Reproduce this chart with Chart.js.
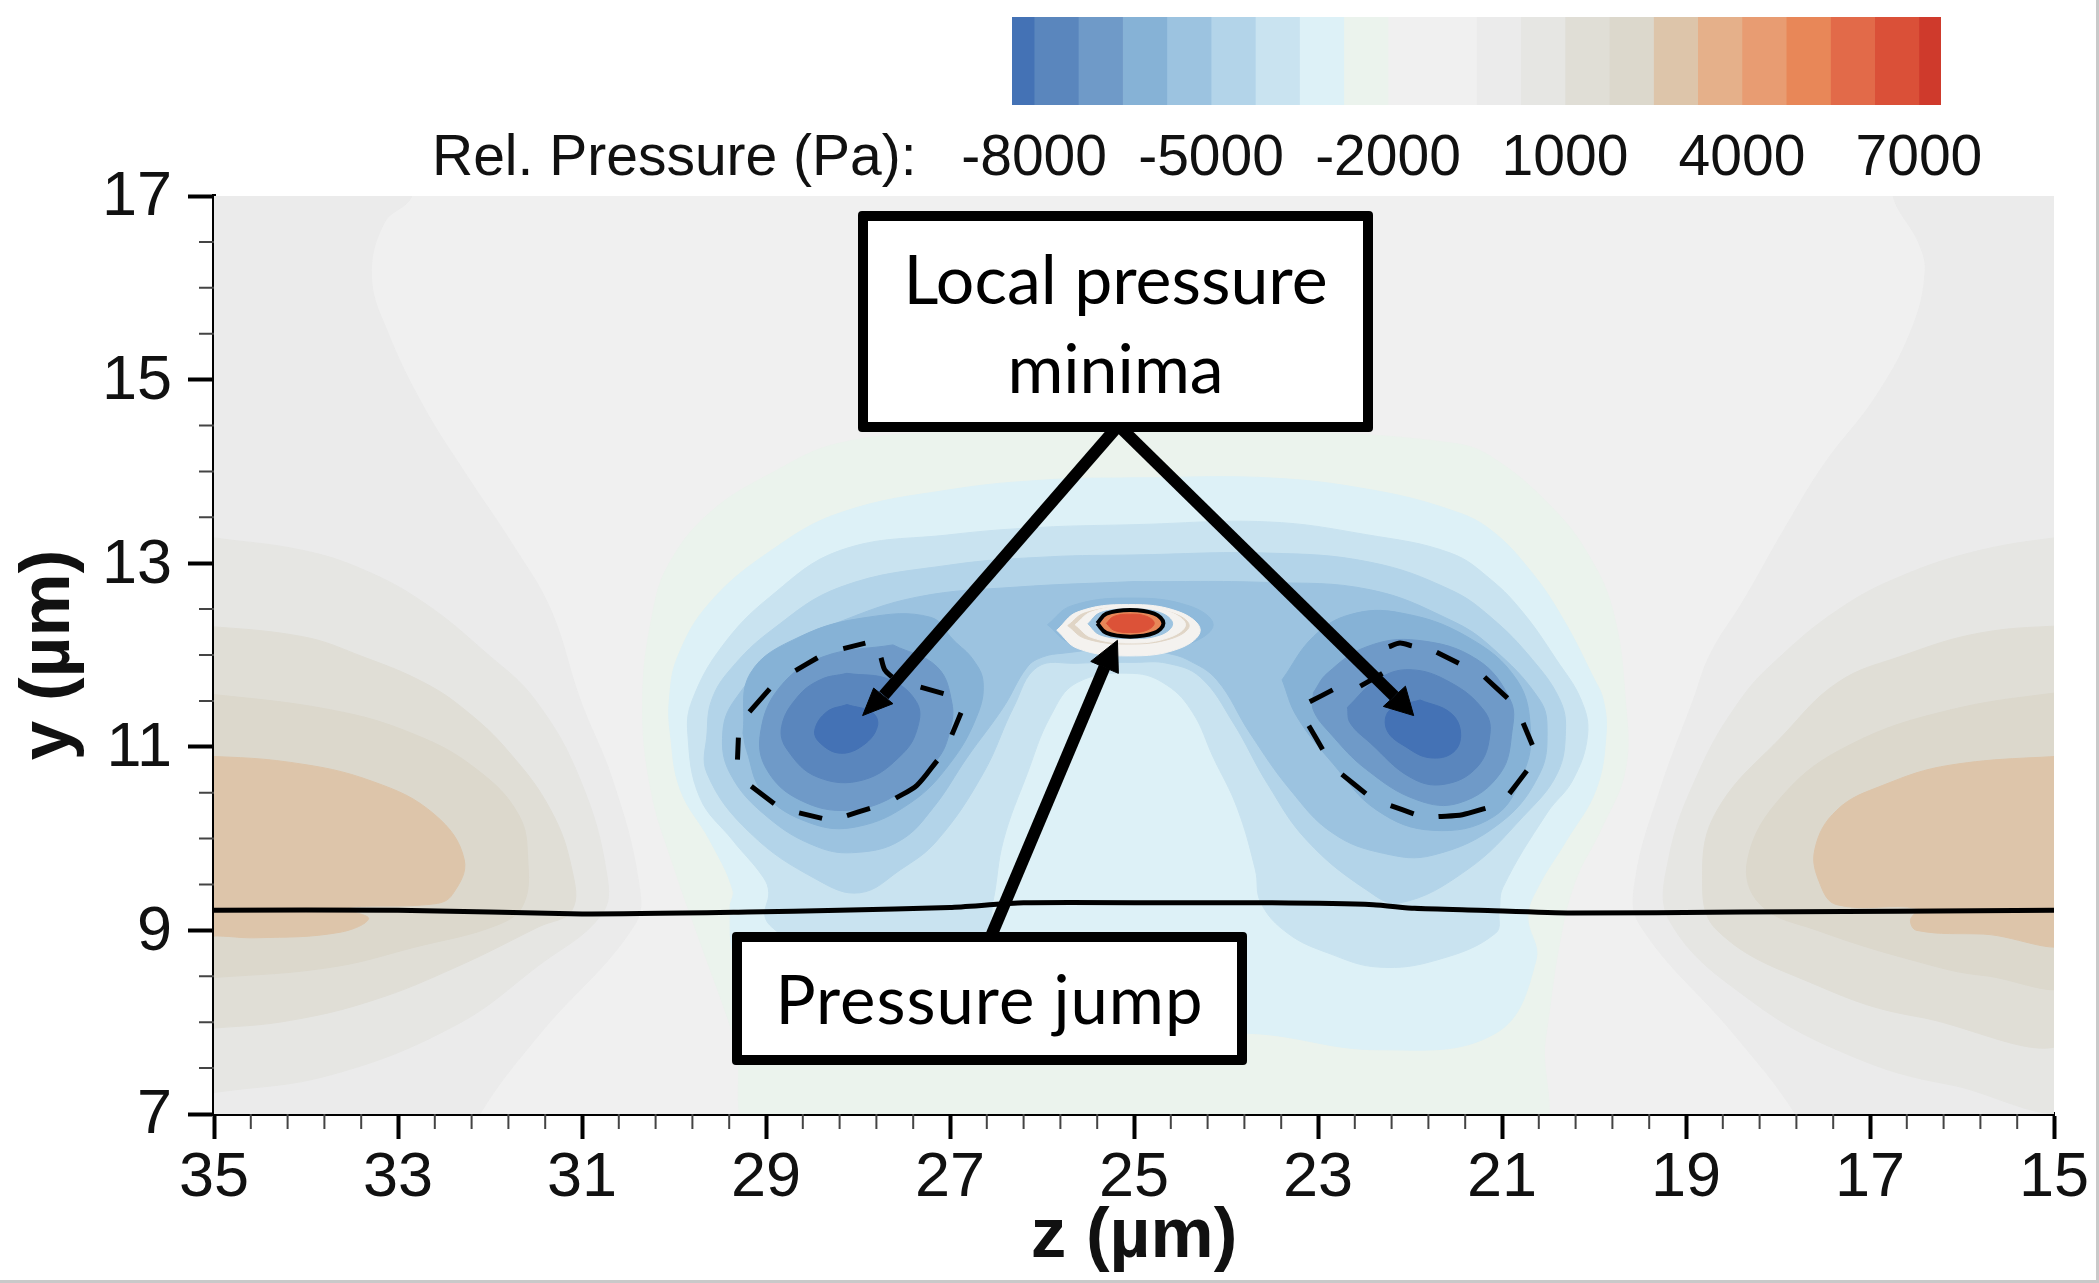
<!DOCTYPE html>
<html lang="en">
<head>
<meta charset="UTF-8">
<title>Relative pressure contour</title>
<script src="https://cdn.jsdelivr.net/npm/chart.js"></script>
<style>
    body { margin: 0; background: #fff; font-family: "Liberation Sans", Arial, sans-serif; }
    #page { position: relative; width: 2099px; height: 1283px; overflow: hidden; }
    canvas { position: absolute; }
    #frame { position: absolute; left: 0; top: 0; width: 2096px; height: 1280px; border-right: 3px solid #c9c9c9; border-bottom: 3px solid #c9c9c9; }
    #barTitle { position: absolute; left: 432px; top: 120px; font-size: 57px; line-height: 70px; color: #111; white-space: nowrap; }
    .note { position: absolute; box-sizing: border-box; background: #fff; border: 10px solid #000; border-radius: 4px;
            font-family: Lato, sans-serif; color: #000; text-align: center;
            display: flex; flex-direction: column; justify-content: center; }
</style>
</head>
<body>
<div id="page">
    <canvas id="plot" width="2099" height="1283" style="left:0;top:0"></canvas>
    <canvas id="colorbar" width="1160" height="195" style="left:880px;top:0"></canvas>
    <div id="barTitle">Rel. Pressure (Pa):</div>
    <div class="note" style="left:858px;top:211px;width:515px;height:221px;line-height:89px;font-size:68px">
        <div>Local pressure</div><div>minima</div>
    </div>
    <div class="note" style="left:732px;top:932px;width:515px;height:133px;line-height:89px;font-size:67px;letter-spacing:1px">
        <div>Pressure jump</div>
    </div>
    <div id="frame"></div>
</div>

<script>
const zTicks = [35, 33, 31, 29, 27, 25, 23, 21, 19, 17, 15];
const yTicks = [17, 15, 13, 11, 9, 7];
const barTicks = [-8000, -5000, -2000, 1000, 4000, 7000];

// colour bar bands, Pa
const barEdges = [-8375, -8000, -7250, -6500, -5750, -5000, -4250, -3500, -2750, -2000, -1250, -500,
                  250, 1000, 1750, 2500, 3250, 4000, 4750, 5500, 6250, 7000, 7375];
const barColors = ['#4472b5', '#5a86bd', '#6f9ac8', '#86b2d6', '#9cc3e0', '#b3d4e9', '#c9e3f0', '#ddf1f7',
                   '#ebf3ed', '#f0f0f0', '#f0f0f0', '#ebebeb', '#e6e6e3', '#e0ded6', '#dcd8cc', '#ddc5aa',
                   '#e5b08a', '#e89c72', '#e88758', '#e26a49', '#da5038', '#cf3a2c'];

// contour outlines as [z, y] in um
const sideLeft1 = [[36.5,18.5],[32.6,18],[32.85,17],[33.15,16.71],[33.29,16.12],[33.11,15.51],[32.72,14.7],[32.27,13.98],[31.74,13.18],[31.34,12.49],[31.02,11.51],[30.67,10.64],[30.39,9.55],[30.43,9.06],[31.47,7.86],[32.11,7],[32.3,6.5],[36.5,5.5]];
const sideRight1 = [[13.5,18.5],[16.9,18],[16.75,17],[16.47,16.49],[16.4,16.16],[16.55,15.54],[16.94,14.81],[17.49,14.09],[17.92,13.39],[18.37,12.6],[18.73,12.02],[18.92,11.51],[19.28,10.53],[19.55,9.55],[19.5,9.06],[18.47,7.86],[17.81,7],[17.6,6.5],[13.5,5.5]];
const sideLeft2 = [[35.26,13.31],[34.96,13.27],[34.04,13.14],[33.38,12.93],[32.72,12.57],[32.04,12.02],[31.51,11.51],[31.02,10.64],[30.73,9.6],[30.79,9.17],[31.47,8.62],[32.37,7.97],[33.72,7.43],[34.96,7.24],[35.26,7.21]];
const sideRight2 = [[14.77,13.31],[15.8,13.14],[16.68,12.85],[17.35,12.49],[18.01,11.95],[18.41,11.51],[18.85,10.75],[19.19,9.77],[19.17,9.09],[18.3,8.24],[17.22,7.64],[16.13,7.32],[14.77,7.19]];
const sideLeft3 = [[35.26,12.33],[34.04,12.2],[33.38,11.98],[32.72,11.7],[32.27,11.4],[31.8,10.95],[31.34,10.31],[31.11,9.66],[31.11,9.22],[31.47,9.04],[32.37,8.6],[33.27,8.24],[34.17,8.02],[34.96,7.94],[35.26,7.94]];
const sideRight3 = [[14.77,12.33],[15.8,12.24],[16.68,11.98],[17.35,11.7],[17.94,11.13],[18.66,10.31],[18.82,9.6],[18.66,9],[17.57,8.4],[16.48,8.06],[14.77,7.92]];
const sideLeft4 = [[35.26,11.6],[33.72,11.4],[32.81,11.13],[32.14,10.75],[31.69,10.26],[31.59,9.77],[31.64,9.28],[31.92,9.06],[32.81,8.82],[33.72,8.6],[34.96,8.49],[35.26,8.49]];
const sideRight4 = [[14.77,11.62],[16.13,11.4],[17.22,11.02],[17.94,10.48],[18.33,9.77],[18.19,9.28],[17.57,9],[16.48,8.66],[15.77,8.51],[14.77,8.49]];
const sideLeft5 = [[35.26,10.91],[34.17,10.83],[33.27,10.62],[32.6,10.26],[32.28,9.77],[32.41,9.39],[32.6,9.29],[33.59,9.24],[33.32,9.13],[33.63,8.98],[34.53,8.92],[34.96,8.94],[35.26,8.94]];
const sideRight5 = [[14.77,10.91],[16.13,10.8],[16.86,10.58],[17.36,10.31],[17.6,9.88],[17.54,9.5],[17.36,9.28],[16.49,9.24],[16.56,9.11],[16.49,9],[15.77,8.96],[14.77,8.93]];

const archGreen = [[25,14.45],[23.19,14.43],[21.56,14.31],[21.12,14.16],[20.46,13.61],[20.05,13.07],[19.79,12.46],[19.66,11.51],[19.66,10.75],[19.93,10.09],[20.2,9.55],[20.37,8.89],[20.53,7.81],[20.69,6.77],[29.06,6.77],[29.34,7.81],[29.72,8.89],[29.99,9.66],[30.25,10.53],[30.34,11.51],[30.23,12.46],[30.05,13],[29.61,13.55],[28.94,13.98],[28.19,14.31],[26.89,14.43]];
const archCyan = [[25,13.93],[23.55,13.93],[22.43,13.8],[21.56,13.58],[21.12,13.36],[20.67,12.89],[20.33,12.38],[20.01,11.76],[19.9,11.51],[19.87,11.13],[19.98,10.53],[20.3,9.98],[20.61,9.47],[20.72,9.15],[20.63,8.68],[21.07,7.88],[22.34,7.7],[23.78,7.88],[26.45,7.81],[27.76,7.7],[28.96,7.88],[29.34,8.68],[29.39,9.25],[29.36,9.44],[29.61,9.98],[29.93,10.53],[30.04,11.15],[30.05,11.51],[29.96,11.98],[29.61,12.57],[28.94,13.14],[28.19,13.55],[27,13.8],[25.91,13.91]];
const archPale = [[25,13.42],[23.55,13.45],[22.47,13.31],[21.56,13.11],[21.12,12.82],[20.77,12.46],[20.41,11.95],[20.14,11.51],[20.07,11.13],[20.23,10.64],[20.51,10.28],[20.99,9.47],[21.03,9.22],[21.07,8.97],[21.7,8.68],[22.34,8.6],[22.88,8.75],[23.33,8.97],[23.62,9.3],[23.68,9.66],[23.88,10.34],[24.14,10.89],[24.36,11.37],[24.64,11.67],[25.01,11.8],[25.62,11.7],[25.91,11.33],[26.16,10.71],[26.42,9.98],[26.53,9.33],[26.62,8.98],[27.11,8.68],[27.76,8.6],[28.47,8.68],[28.87,8.98],[29.01,9.15],[28.97,9.41],[29.03,9.58],[29.36,9.98],[29.72,10.45],[29.85,11.15],[29.8,11.51],[29.48,12.09],[28.96,12.63],[28.19,13.14],[27,13.31],[26.02,13.39]];
const archLight = [[25,13.09],[23.55,13.11],[22.43,13.01],[21.56,12.71],[21.12,12.41],[20.67,11.95],[20.37,11.51],[20.31,11.18],[20.4,10.71],[20.77,10.24],[21.38,9.66],[22.11,9.3],[22.47,9.44],[23.12,9.98],[23.55,10.6],[23.92,11.26],[24.28,11.76],[24.64,11.91],[25,11.92],[25.62,11.91],[26.05,11.87],[26.31,11.43],[26.64,10.71],[27.14,9.98],[27.54,9.66],[27.98,9.41],[28.44,9.55],[29.17,10.06],[29.64,10.71],[29.64,11.15],[29.59,11.51],[29.39,11.84],[28.94,12.27],[28.19,12.74],[27,12.98],[25.91,13.07]];
const archMid = [[25,12.8],[23.55,12.79],[22.43,12.71],[21.56,12.38],[21.12,12.09],[20.59,11.51],[20.51,11.18],[20.59,10.71],[21.02,10.17],[21.75,9.82],[22.29,9.84],[22.84,10.06],[23.3,10.53],[23.74,11.15],[24.1,11.73],[24.42,11.95],[24.64,12.02],[25,12.09],[25.77,12.02],[25.99,11.98],[26.16,11.87],[26.42,11.43],[26.81,10.89],[27.18,10.34],[27.54,9.98],[28.01,9.85],[28.44,9.91],[28.99,10.24],[29.39,10.71],[29.47,11.15],[29.34,11.51],[28.81,12.08],[28.23,12.35],[27.36,12.63],[26.27,12.74]];

const lobeLeft1 = [[29.25,11.15],[29.17,11.8],[28.63,12.2],[27.9,12.41],[27.21,12.41],[26.96,12.16],[26.75,11.95],[26.64,11.7],[26.71,11.33],[27,10.82],[27.43,10.39],[28.01,10.13],[28.52,10.17],[29.03,10.5],[29.21,10.96]];
const lobeRight1 = [[23.39,11.73],[23.05,12.2],[22.65,12.44],[22.11,12.46],[21.38,12.2],[20.84,11.73],[20.69,11.18],[20.77,10.71],[21.09,10.24],[21.75,10.09],[22.36,10.31],[22.84,10.82],[23.23,11.33]];
const lobeLeft2 = [[27.62,12.11],[27.14,11.87],[26.98,11.48],[27,11.18],[27.14,10.86],[27.54,10.5],[28.09,10.31],[28.63,10.42],[28.99,10.75],[29.06,11.15],[28.85,11.65],[28.38,11.98]];
const lobeRight2 = [[23.05,11.59],[22.9,11.8],[22.47,12.09],[21.92,12.16],[21.27,11.95],[20.91,11.51],[20.89,11.18],[21.02,10.71],[21.46,10.39],[21.92,10.42],[22.47,10.75],[22.87,11.15],[23.05,11.4]];
const lobeLeft3 = [[28.12,11.8],[27.65,11.73],[27.36,11.48],[27.35,11.22],[27.51,10.93],[27.94,10.64],[28.44,10.67],[28.77,10.97],[28.83,11.22],[28.66,11.54],[28.41,11.73]];
const lobeRight3 = [[22.68,11.43],[22.36,11.73],[22,11.84],[21.56,11.7],[21.2,11.4],[21.13,11.15],[21.27,10.78],[21.64,10.59],[22,10.67],[22.43,11.04],[22.65,11.26]];
const lobeLeft4 = [[28.12,11.46],[27.84,11.37],[27.79,11.22],[27.94,11.02],[28.19,10.93],[28.41,11.04],[28.47,11.18],[28.34,11.38]];
const lobeRight4 = [[21.89,11.51],[21.56,11.37],[21.45,11.15],[21.53,10.94],[21.78,10.88],[22.03,10.99],[22.25,11.18],[22.22,11.4]];

const jumpHalo = [[25.94,12.33],[25.68,12.535],[25.04,12.62],[24.4,12.535],[24.14,12.33],[24.4,12.125],[25.04,12.04],[25.68,12.125]];
const jumpWhite = [[25.84,12.27],[25.61,12.47],[25.06,12.55],[24.51,12.47],[24.28,12.27],[24.51,12.07],[25.06,11.99],[25.61,12.07]];
const jumpTan = [[25.72,12.32],[25.53,12.46],[25.06,12.52],[24.59,12.46],[24.4,12.32],[24.59,12.18],[25.06,12.12],[25.53,12.18]];
const jumpInner = [[25.64,12.33],[25.46,12.47],[25.04,12.53],[24.62,12.47],[24.44,12.33],[24.62,12.19],[25.04,12.13],[25.46,12.19]];
const jumpBlue = [[25.5,12.34],[25.37,12.46],[25.04,12.5],[24.71,12.46],[24.58,12.34],[24.71,12.22],[25.04,12.18],[25.37,12.22]];
const jumpOrange = [[25.4,12.345],[25.3,12.45],[25.04,12.49],[24.78,12.45],[24.68,12.345],[24.78,12.24],[25.04,12.2],[25.3,12.24]];
const jumpRed = [[25.3,12.345],[25.22,12.42],[25.04,12.445],[24.86,12.42],[24.78,12.345],[24.86,12.27],[25.04,12.245],[25.22,12.27]];

// interface line
const interfaceLine = [[35,9.22],[33,9.22],[31,9.18],[29.2,9.2],[28.2,9.22],[27,9.25],[26.2,9.3],[24.6,9.3],[23.5,9.3],[22.4,9.28],[21.95,9.24],[21.25,9.22],[20.25,9.19],[18.4,9.2],[15,9.22]];

// dashed outlines around the minima, one stroke each
const dashesLeft = [
    [[28.16,12.07],[27.92,12.13]],
    [[28.68,11.83],[28.44,11.97]],
    [[29.18,11.38],[28.96,11.63]],
    [[29.3,11.1],[29.31,10.86]],
    [[29.16,10.57],[28.91,10.38]],
    [[28.64,10.28],[28.39,10.22]],
    [[28.12,10.25],[27.87,10.33]],
    [[27.59,10.44],[27.36,10.58],[27.14,10.85]],
    [[26.98,11.13],[26.88,11.37]],
    [[27.32,11.65],[27.07,11.58]],
    [[27.75,11.97],[27.71,11.84],[27.63,11.76]]
];
const dashesRight = [
    [[22.23,12.09],[22.11,12.13],[21.98,12.1]],
    [[21.71,12.03],[21.47,11.91]],
    [[21.19,11.76],[20.94,11.53]],
    [[20.77,11.26],[20.67,11.02]],
    [[20.73,10.74],[20.92,10.49]],
    [[21.18,10.33],[21.43,10.26],[21.69,10.24]],
    [[21.96,10.27],[22.21,10.36]],
    [[22.48,10.49],[22.74,10.7]],
    [[22.95,10.97],[23.1,11.23]],
    [[23.09,11.49],[22.84,11.62]],
    [[22.54,11.66],[22.3,11.8]]
];

// annotation arrows
const arrowLeftShaft = [[25.17,14.5],[27.72,11.56]];
const arrowRightShaft = [[25.17,14.5],[22.17,11.55]];
const arrowJumpShaft = [[26.57,8.9],[25.32,11.87]];
const arrowLeftHead = [[27.95,11.34],[27.62,11.47],[27.83,11.64]];
const arrowRightHead = [[21.96,11.34],[22.29,11.44],[22.05,11.66]];
const arrowJumpHead = [[25.18,12.16],[25.47,11.93],[25.17,11.8]];

const toXY = pts => pts.map(p => ({x: p[0], y: p[1]}));

// painter's order, outermost first
const layers = [
    [sideLeft1, '#ebebeb'], [sideRight1, '#ebebeb'],
    [sideLeft2, '#e6e6e3'], [sideRight2, '#e6e6e3'],
    [sideLeft3, '#e0ded6'], [sideRight3, '#e0ded6'],
    [sideLeft4, '#dcd8cc'], [sideRight4, '#dcd8cc'],
    [sideLeft5, '#ddc5aa'], [sideRight5, '#ddc5aa'],
    [archGreen, '#ebf3ed'], [archCyan, '#ddf1f7'], [archPale, '#c9e3f0'],
    [archLight, '#b3d4e9'], [archMid, '#9cc3e0'],
    [lobeLeft1, '#86b2d6'], [lobeRight1, '#86b2d6'],
    [lobeLeft2, '#6f9ac8'], [lobeRight2, '#6f9ac8'],
    [lobeLeft3, '#5a86bd'], [lobeRight3, '#5a86bd'],
    [lobeLeft4, '#4472b5'], [lobeRight4, '#4472b5'],
    [jumpHalo, '#8fbadb'], [jumpWhite, '#f4f2ef'], [jumpTan, '#e0d5c6'], [jumpInner, '#f4f2ef'],
    [jumpBlue, '#9cc3e0'], [jumpOrange, '#e88758'], [jumpRed, '#dc5238']
];

const datasets = [];
function addFilled(pts, color, tension) {
    datasets.push({
        data: toXY(pts.concat([pts[0]])), showLine: true, filled: true, tension: tension,
        borderColor: color, backgroundColor: color, borderWidth: 1, pointRadius: 0, capBezierPoints: false
    });
}
function addLine(pts, width, tension) {
    datasets.push({
        data: toXY(pts), showLine: true, tension: tension, borderColor: '#000', borderWidth: width,
        pointRadius: 0, borderCapStyle: 'butt', capBezierPoints: false
    });
}

layers.forEach(l => addFilled(l[0], l[1], 0.4));
addLine(jumpOrange.concat([jumpOrange[0]]), 4, 0.4);
addLine(interfaceLine, 5, 0.2);
dashesLeft.concat(dashesRight).forEach(d => addLine(d, 5, 0.3));
addLine(arrowLeftShaft, 12, 0);
addLine(arrowRightShaft, 12, 0);
addLine(arrowJumpShaft, 12, 0);
addFilled(arrowLeftHead, '#000', 0);
addFilled(arrowRightHead, '#000', 0);
addFilled(arrowJumpHead, '#000', 0);
// first one gets painted first
datasets.forEach((d, i) => { d.order = datasets.length - i; });

const contourFill = {
    id: 'contourFill',
    beforeDatasetsDraw(chart) {
        const a = chart.chartArea;
        chart.ctx.fillStyle = '#f0f0f0';
        chart.ctx.fillRect(a.left, a.top, a.width, a.height);
    },
    afterDatasetDraw(chart, args) {
        const ds = chart.data.datasets[args.index];
        if (!ds.filled) return;
        const a = chart.chartArea, ctx = chart.ctx;
        ctx.save();
        ctx.beginPath();
        ctx.rect(a.left, a.top, a.width, a.height);
        ctx.clip();
        ctx.beginPath();
        args.meta.dataset.path(ctx);
        ctx.closePath();
        ctx.fillStyle = ds.backgroundColor;
        ctx.fill();
        ctx.restore();
    }
};

// short ticks between the labelled ones
const minorTicks = {
    id: 'minorTicks',
    afterDraw(chart) {
        const ctx = chart.ctx, a = chart.chartArea, x = chart.scales.x, y = chart.scales.y;
        ctx.save();
        ctx.strokeStyle = '#444';
        ctx.lineWidth = 2;
        ctx.beginPath();
        for (let i = 0; i <= 50; i++) {
            if (i % 5 === 0) continue;
            const px = x.getPixelForValue(15 + i * 0.4);
            ctx.moveTo(px, a.bottom);
            ctx.lineTo(px, a.bottom + 15);
        }
        for (let i = 0; i <= 20; i++) {
            if (i % 4 === 0) continue;
            const py = y.getPixelForValue(7 + i * 0.5);
            ctx.moveTo(a.left, py);
            ctx.lineTo(a.left - 15, py);
        }
        ctx.stroke();
        ctx.restore();
    }
};

new Chart(document.getElementById('plot'), {
    type: 'scatter',
    data: { datasets: datasets },
    plugins: [contourFill, minorTicks],
    options: {
        responsive: false,
        animation: false,
        events: [],
        devicePixelRatio: 1,
        layout: { padding: { left: 0, top: 196, right: 45, bottom: 0 } },
        plugins: { legend: { display: false }, tooltip: { enabled: false } },
        scales: {
            x: {
                type: 'linear', reverse: true, min: 15, max: 35,
                afterBuildTicks: s => { s.ticks = zTicks.map(v => ({value: v})); },
                afterFit: s => { s.height = 169; },
                border: { color: '#000', width: 4 },
                grid: { drawOnChartArea: false, tickLength: 25, tickWidth: 4, tickColor: '#000' },
                ticks: { color: '#111', font: { family: 'Liberation Sans', size: 63 }, padding: 2, maxRotation: 0, autoSkip: false },
                title: { display: true, text: 'z (µm)', color: '#111', font: { family: 'Liberation Sans', size: 71, weight: 'bold' }, padding: { top: 0, bottom: 3 } }
            },
            y: {
                type: 'linear', min: 7, max: 17,
                afterBuildTicks: s => { s.ticks = yTicks.map(v => ({value: v})); },
                afterFit: s => { s.width = 214; },
                border: { color: '#000', width: 4 },
                grid: { drawOnChartArea: false, tickLength: 26, tickWidth: 4, tickColor: '#000' },
                ticks: { color: '#111', font: { family: 'Liberation Sans', size: 63 }, padding: 16, labelOffset: 2, autoSkip: false },
                title: { display: true, text: 'y (µm)', color: '#111', font: { family: 'Liberation Sans', size: 71, weight: 'bold' }, padding: { top: 7, bottom: 0 } }
            }
        }
    }
});

const barDatasets = barColors.map((c, i) => ({
    data: [[barEdges[i], barEdges[i + 1]]], backgroundColor: c, borderWidth: 0,
    barPercentage: 1, categoryPercentage: 1, grouped: false
}));

new Chart(document.getElementById('colorbar'), {
    type: 'bar',
    data: { labels: ['Rel. Pressure (Pa)'], datasets: barDatasets },
    options: {
        indexAxis: 'y',
        responsive: false,
        animation: false,
        events: [],
        devicePixelRatio: 1,
        layout: { padding: { left: 132, top: 17, right: 99, bottom: 0 } },
        plugins: { legend: { display: false }, tooltip: { enabled: false } },
        scales: {
            x: {
                type: 'linear', min: -8375, max: 7375,
                afterBuildTicks: s => { s.ticks = barTicks.map(v => ({value: v})); },
                afterFit: s => { s.height = 90; },
                border: { display: false },
                grid: { display: false, drawTicks: false },
                ticks: { color: '#111', font: { family: 'Liberation Sans', size: 57 }, padding: 20, maxRotation: 0, autoSkip: false, callback: v => String(v) }
            },
            y: { display: false }
        }
    }
});
</script>
</body>
</html>
